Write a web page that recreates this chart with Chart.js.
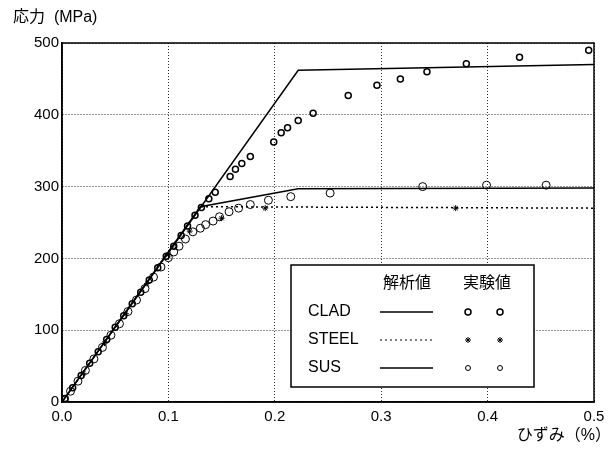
<!DOCTYPE html>
<html>
<head>
<meta charset="utf-8">
<script src="https://cdn.jsdelivr.net/npm/chart.js@4.4.1/dist/chart.umd.min.js"></script>
<style>
  html, body { margin: 0; padding: 0; background: #fff; }
  #wrap { width: 615px; height: 450px; }
</style>
</head>
<body>
<div id="wrap"><canvas id="grafico"></canvas></div>
<script>
// analysis lines (strain %, stress MPa)
var cladLineX = [0, 0.222, 0.5];
var cladLineY = [0, 462, 470];
var steelLineX = [0, 0.13, 0.5];
var steelLineY = [0, 272, 270];
var susLineX = [0, 0.13, 0.222, 0.5];
var susLineY = [0, 272, 297, 298];

// test points
var cladPtX = [0.003, 0.01, 0.018, 0.026, 0.034, 0.042, 0.05, 0.058, 0.066, 0.074, 0.082, 0.09, 0.098, 0.105, 0.112, 0.118, 0.125, 0.131, 0.138, 0.144, 0.158, 0.163, 0.169, 0.177, 0.199, 0.206, 0.212, 0.222, 0.236, 0.269, 0.296, 0.318, 0.343, 0.38, 0.43, 0.495];
var cladPtY = [5, 20, 37, 54, 70, 87, 104, 120, 137, 153, 170, 187, 203, 217, 232, 245, 260, 271, 283, 292, 314, 324, 332, 342, 362, 375, 382, 392, 402, 427, 441, 450, 460, 471, 480, 490];
var steelPtX = [0.02, 0.04, 0.06, 0.08, 0.1, 0.12, 0.15, 0.191, 0.37];
var steelPtY = [40, 82, 123, 165, 205, 238, 256, 270, 270];
var susPtX = [0.002, 0.008, 0.015, 0.022, 0.03, 0.038, 0.046, 0.054, 0.062, 0.07, 0.078, 0.086, 0.093, 0.1, 0.105, 0.11, 0.116, 0.123, 0.13, 0.135, 0.142, 0.148, 0.157, 0.166, 0.177, 0.194, 0.215, 0.252, 0.339, 0.399, 0.455];
var susPtY = [3, 15, 29, 44, 60, 76, 93, 109, 126, 142, 158, 174, 188, 201, 209, 217, 227, 237, 242, 247, 252, 258, 265, 270, 275, 281, 286, 291, 300, 302, 302];

var xTicks = [0, 0.1, 0.2, 0.3, 0.4, 0.5];
var yTicks = [0, 100, 200, 300, 400, 500];

var fonte = '"Liberation Sans", Arial, "Noto Sans CJK JP", sans-serif';

function pares(xs, ys) {
    var r = [];
    for (var i = 0; i < xs.length; i++) {
        r.push({ x: xs[i], y: ys[i] });
    }
    return r;
}

function linha(xs, ys, dash) {
    return {
        data: pares(xs, ys),
        showLine: true,
        borderColor: "#000",
        borderWidth: 1.5,
        borderDash: dash,
        pointRadius: 0,
        fill: false
    };
}

function pontos(xs, ys, estilo, raio, largura) {
    return {
        data: pares(xs, ys),
        showLine: false,
        pointStyle: estilo,
        pointRadius: raio,
        pointBorderWidth: largura,
        pointBorderColor: "#000",
        pointBackgroundColor: estilo == "star" ? "#000" : "rgba(0,0,0,0)"
    };
}

var extras = {
    id: "extras",
    afterDraw: function (chart) {
        var ctx = chart.ctx;
        var a = chart.chartArea;
        ctx.save();
        ctx.strokeStyle = "#000";
        ctx.lineWidth = 1.5;
        ctx.setLineDash([]);
        ctx.strokeRect(a.left, a.top, a.right - a.left, a.bottom - a.top);

        ctx.fillStyle = "#000";
        ctx.font = "16px " + fonte;
        ctx.textBaseline = "middle";
        ctx.textAlign = "left";
        ctx.fillText("応力  (MPa)", 13, 18);
        ctx.textAlign = "right";
        ctx.fillText("ひずみ（%）", 611, 436);

        // legend box
        ctx.fillStyle = "#fff";
        ctx.fillRect(291, 265, 243, 122);
        ctx.strokeRect(291, 265, 243, 122);
        ctx.fillStyle = "#000";
        ctx.textAlign = "center";
        ctx.fillText("解析値", 407, 284);
        ctx.fillText("実験値", 487, 284);

        var rotulos = ["CLAD", "STEEL", "SUS"];
        var ys = [312, 340, 368];
        for (var i = 0; i < 3; i++) {
            ctx.textAlign = "left";
            ctx.fillStyle = "#000";
            ctx.fillText(rotulos[i], 308, ys[i]);
            ctx.beginPath();
            ctx.lineWidth = i == 1 ? 1 : 1.5;
            ctx.setLineDash(i == 1 ? [2, 3] : []);
            ctx.moveTo(380, ys[i]);
            ctx.lineTo(433, ys[i]);
            ctx.stroke();
            ctx.setLineDash([]);
            var mx = [468, 500];
            for (var j = 0; j < 2; j++) {
                if (i == 1) {
                    Chart.helpers.drawPoint(ctx, { pointStyle: "star", radius: 3, borderWidth: 1 }, mx[j], ys[i]);
                } else {
                    ctx.beginPath();
                    ctx.lineWidth = i == 0 ? 1.5 : 1;
                    ctx.arc(mx[j], ys[i], i == 0 ? 3 : 2.5, 0, Math.PI * 2);
                    ctx.stroke();
                }
            }
        }
        ctx.restore();
    }
};

new Chart(document.getElementById("grafico"), {
    type: "scatter",
    data: {
        datasets: [
            linha(cladLineX, cladLineY, []),
            linha(steelLineX, steelLineY, [2, 3]),
            linha(susLineX, susLineY, []),
            pontos(cladPtX, cladPtY, "circle", 3, 1.5),
            pontos(steelPtX, steelPtY, "star", 3, 1),
            pontos(susPtX, susPtY, "circle", 4, 1)
        ]
    },
    options: {
        responsive: true,
        maintainAspectRatio: false,
        animation: false,
        layout: { padding: { left: 0, top: 43, right: 21, bottom: 0 } },
        plugins: {
            legend: { display: false },
            tooltip: { enabled: false }
        },
        scales: {
            x: {
                type: "linear",
                min: 0,
                max: 0.5,
                afterFit: function (s) { s.height = 48; },
                afterBuildTicks: function (s) { s.ticks = xTicks.map(function (v) { return { value: v }; }); },
                ticks: {
                    color: "#000",
                    padding: 6,
                    font: { family: fonte, size: 15 },
                    callback: function (v) { return v.toFixed(1); }
                },
                grid: { color: "#333", lineWidth: 1, drawTicks: false },
                border: { display: true, color: "#000", width: 1.5, dash: [1, 2] }
            },
            y: {
                type: "linear",
                min: 0,
                max: 500,
                afterFit: function (s) { s.width = 62; },
                afterBuildTicks: function (s) { s.ticks = yTicks.map(function (v) { return { value: v }; }); },
                ticks: {
                    color: "#000",
                    padding: 3,
                    font: { family: fonte, size: 15 }
                },
                grid: { color: "#333", lineWidth: 1, drawTicks: false },
                border: { display: true, color: "#000", width: 1.5, dash: [1, 2] }
            }
        }
    },
    plugins: [extras]
});
</script>
</body>
</html>
